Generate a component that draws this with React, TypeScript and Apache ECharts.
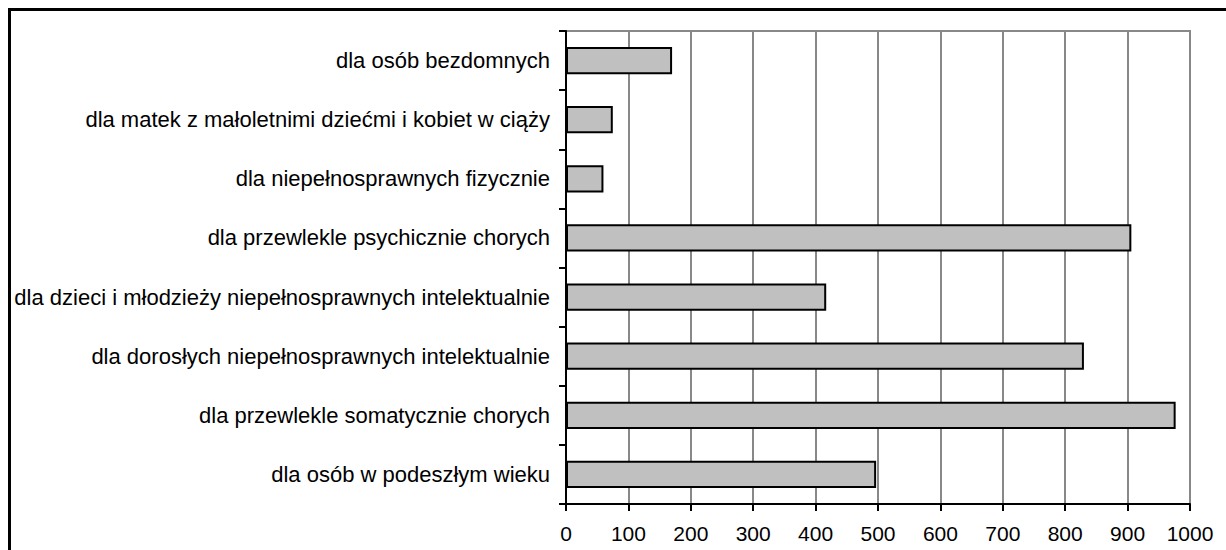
import React, { useEffect, useRef } from "react";
import * as echarts from "echarts";

const categories = [
  "dla osób bezdomnych",
  "dla matek z małoletnimi dziećmi i kobiet w ciąży",
  "dla niepełnosprawnych fizycznie",
  "dla przewlekle psychicznie chorych",
  "dla dzieci i młodzieży niepełnosprawnych intelektualnie",
  "dla dorosłych niepełnosprawnych intelektualnie",
  "dla przewlekle somatycznie chorych",
  "dla osób w podeszłym wieku",
];
const values = [170, 75, 60, 906, 417, 830, 977, 497];
const xMin = 0;
const xMax = 1000;
const xInterval = 100;

export default function App() {
  const ref = useRef<HTMLDivElement>(null);
  useEffect(() => {
    if (!ref.current) return;
    const chart = echarts.init(ref.current, null, { renderer: "svg" });
    const font = "Liberation Sans, Arial, sans-serif";
    chart.setOption({
      animation: false,
      backgroundColor: "#ffffff",
      grid: {
        left: 566,
        right: 36,
        top: 31,
        bottom: 46,
        show: true,
        borderColor: "#888888",
        borderWidth: 2,
        backgroundColor: "transparent",
      },
      xAxis: {
        type: "value",
        min: xMin,
        max: xMax,
        interval: xInterval,
        axisLine: { show: true, lineStyle: { color: "#000", width: 2 } },
        axisTick: { show: true, length: 7, lineStyle: { color: "#000", width: 2 } },
        axisLabel: {
          color: "#000",
          fontSize: 21,
          fontFamily: font,
          margin: 19,
          formatter: (v: number) => String(v),
        },
        splitLine: { show: true, lineStyle: { color: "#888888", width: 2 } },
      },
      yAxis: {
        type: "category",
        data: categories,
        inverse: true,
        axisLine: { show: true, lineStyle: { color: "#000", width: 2 } },
        axisTick: { show: true, length: 7, lineStyle: { color: "#000", width: 2 } },
        axisLabel: { color: "#000", fontSize: 22, fontFamily: font, margin: 16 },
        splitLine: { show: false },
      },
      series: [
        {
          type: "bar",
          data: values,
          barCategoryGap: "54%",
          itemStyle: { color: "#c0c0c0", borderColor: "#000", borderWidth: 2 },
        },
      ],
      graphic: [
        {
          type: "rect",
          shape: { x: 9.5, y: 9.5, width: 1240, height: 560 },
          style: { fill: "none", stroke: "#000", lineWidth: 3 },
          silent: true,
        },
      ],
    });
    return () => chart.dispose();
  }, []);
  return (
    <div
      ref={ref}
      style={{ position: "absolute", left: 0, top: 0, width: 1226, height: 550 }}
    />
  );
}
